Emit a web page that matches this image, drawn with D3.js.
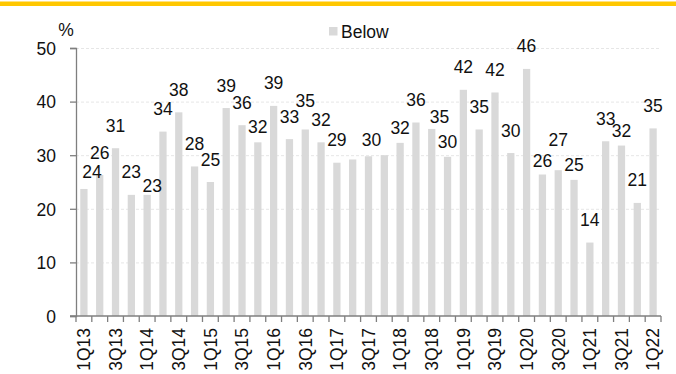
<!DOCTYPE html>
<html>
<head>
<meta charset="utf-8">
<script src="https://cdn.jsdelivr.net/npm/d3@7"></script>
<style>
  html, body { margin: 0; padding: 0; background: #fff; }
  svg { display: block; font-family: "Liberation Sans", Arial, sans-serif; }
</style>
</head>
<body>
<svg id="chart" width="676" height="374"></svg>
<script>
// Quarterly share (%) of the "Below" series, 1Q13 – 1Q22
const quarters = [
  "1Q13","2Q13","3Q13","4Q13","1Q14","2Q14","3Q14","4Q14",
  "1Q15","2Q15","3Q15","4Q15","1Q16","2Q16","3Q16","4Q16",
  "1Q17","2Q17","3Q17","4Q17","1Q18","2Q18","3Q18","4Q18",
  "1Q19","2Q19","3Q19","4Q19","1Q20","2Q20","3Q20","4Q20",
  "1Q21","2Q21","3Q21","4Q21","1Q22"
];
const below = [
  23.7, 26.3, 31.3, 22.6, 22.6, 34.4, 38.0, 27.9,
  25.0, 38.8, 35.6, 32.4, 39.2, 33.0, 34.8, 32.4,
  28.6, 29.2, 29.8, 30.0, 32.3, 36.1, 34.9, 29.7,
  42.2, 34.8, 41.7, 30.4, 46.1, 26.4, 27.2, 25.4,
  13.7, 32.6, 31.8, 21.1, 35.0
];
// Quarters whose value is printed above the bar
const labelled = quarters.map((q, i) => i !== 17 && i !== 19);
const yTicks = [0, 10, 20, 30, 40, 50];
const seriesName = "Below";
const unitLabel = "%";

// Hand-placed label nudges [dx, dy] so neighbouring labels do not collide
const labelNudge = {
  0: [8, 6], 4: [5, 13.5], 11: [0, 7.3], 14: [0, -5.5], 18: [3, 6.5],
  20: [0, 8], 22: [7.7, 10.5], 23: [0, 8], 29: [0, 9], 30: [0, -8],
  31: [0, 8], 34: [0, 7.5]
};

const svg = d3.select("#chart");
const plotLeft = 76, plotRight = 661, plotTop = 48, plotBottom = 316;
const textColor = "#111";
const axisColor = "#7f7f7f";
const barColor = "#d9d9d9";
const fontSize = 17.5;

// Header rule
svg.append("rect").attr("x", 0).attr("y", 1.5).attr("width", 676).attr("height", 4.5)
  .attr("fill", "#ffc700");

const x = d3.scaleBand().domain(quarters).range([plotLeft, plotRight])
  .paddingInner(0.54).paddingOuter(0.27);
const y = d3.scaleLinear().domain([0, 50]).range([plotBottom, plotTop]);

// Gridlines
svg.append("g").selectAll("line").data(yTicks.filter(t => t > 0)).join("line")
  .attr("x1", plotLeft).attr("x2", plotRight)
  .attr("y1", d => y(d) + 0.5).attr("y2", d => y(d) + 0.5)
  .attr("stroke", "#e6e6e6").attr("stroke-width", 1).attr("stroke-dasharray", "3,2");

// Bars
svg.append("g").selectAll("rect").data(below).join("rect")
  .attr("x", (d, i) => x(quarters[i]))
  .attr("width", x.bandwidth())
  .attr("y", d => y(d))
  .attr("height", d => y(0) - y(d))
  .attr("fill", barColor);

// Value labels
svg.append("g").selectAll("text")
  .data(below.map((v, i) => ({ v, i })).filter(d => labelled[d.i]))
  .join("text")
  .attr("x", d => x(quarters[d.i]) + x.bandwidth() / 2 + (labelNudge[d.i] ? labelNudge[d.i][0] : 0))
  .attr("y", d => y(d.v) - 16.5 + (labelNudge[d.i] ? labelNudge[d.i][1] : 0))
  .attr("text-anchor", "middle")
  .attr("font-size", fontSize)
  .attr("fill", textColor)
  .text(d => Math.round(d.v));

// Y axis
const yAxis = svg.append("g").attr("transform", `translate(${plotLeft},0)`)
  .call(d3.axisLeft(y).tickValues(yTicks).tickSize(6).tickPadding(14).tickFormat(d3.format("d")));
yAxis.select(".domain").attr("stroke", axisColor).attr("stroke-width", 1.3);
yAxis.selectAll(".tick line").attr("stroke", axisColor).attr("stroke-width", 1.3);
yAxis.selectAll("text").attr("font-size", fontSize).attr("fill", textColor)
  .attr("font-family", "Liberation Sans, Arial, sans-serif").attr("dy", "0.36em");

// X axis baseline and ticks at category boundaries
const gx = svg.append("g");
gx.append("line").attr("x1", plotLeft - 6).attr("x2", plotRight)
  .attr("y1", plotBottom).attr("y2", plotBottom)
  .attr("stroke", axisColor).attr("stroke-width", 1.3);
const boundaries = quarters.map(q => x(q) - x.step() * x.paddingInner() / 2).concat([plotRight]);
gx.selectAll("line.tick").data(boundaries).join("line").attr("class", "tick")
  .attr("x1", d => d).attr("x2", d => d)
  .attr("y1", plotBottom).attr("y2", plotBottom + 6)
  .attr("stroke", axisColor).attr("stroke-width", 1.3);

// Category labels, every second quarter, rotated
gx.selectAll("text").data(quarters.filter((q, i) => i % 2 === 0)).join("text")
  .attr("transform", q => `translate(${x(q) + x.bandwidth() / 2},${plotBottom + 12}) rotate(-90)`)
  .attr("text-anchor", "end")
  .attr("dy", "0.36em")
  .attr("font-size", fontSize)
  .attr("fill", textColor)
  .text(q => q);

// Unit label
svg.append("text").attr("x", 66).attr("y", 36).attr("text-anchor", "middle")
  .attr("font-size", fontSize).attr("fill", textColor).text(unitLabel);

// Legend
const legend = svg.append("g").attr("transform", "translate(329,27)");
legend.append("rect").attr("width", 8.5).attr("height", 8.5).attr("fill", barColor);
legend.append("text").attr("x", 12).attr("y", 10.5)
  .attr("font-size", fontSize).attr("fill", textColor).text(seriesName);
</script>
</body>
</html>
